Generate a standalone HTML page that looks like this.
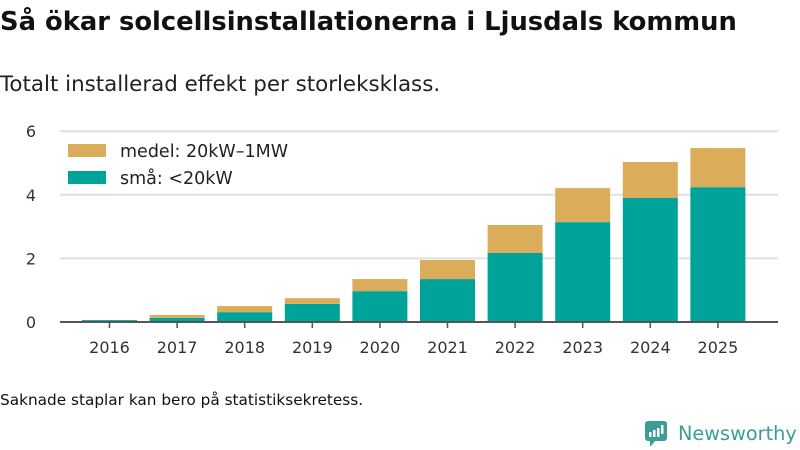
<!DOCTYPE html>
<html><head><meta charset="utf-8"><style>
body{margin:0;width:800px;height:450px;background:#fff;font-family:"Liberation Sans","DejaVu Sans",sans-serif;overflow:hidden;position:relative}
</style></head><body>
<svg width="800" height="450" style="position:absolute;left:0;top:0">
<text x="0" y="30" font-size="25.8" font-weight="bold" fill="#111" font-family="DejaVu Sans, sans-serif">Så ökar solcellsinstallationerna i Ljusdals kommun</text>
<text x="0" y="91" font-size="21.4" fill="#222" font-family="DejaVu Sans, sans-serif">Totalt installerad effekt per storleksklass.</text>
<g id="grid"></g>
<g id="bars"></g>
<rect x="60" y="133" width="237" height="60" fill="#fff"/>
<rect x="68" y="144" width="38" height="13" fill="#dbac5a"/>
<text x="120" y="157" font-size="17.5" fill="#222" font-family="DejaVu Sans, sans-serif">medel: 20kW–1MW</text>
<rect x="68" y="171" width="38" height="13" fill="#00a39a"/>
<text x="120" y="184" font-size="17.5" fill="#222" font-family="DejaVu Sans, sans-serif">små: &lt;20kW</text>
<g id="axis"></g>
<text x="0" y="405" font-size="15.3" fill="#111" font-family="DejaVu Sans, sans-serif">Saknade staplar kan bero på statistiksekretess.</text>
<g>
<rect x="645" y="421" width="22" height="20" rx="3" fill="#3a9e96"/>
<polygon points="650,440 656,440 650,447" fill="#3a9e96"/>
<rect x="649" y="432" width="2.5" height="5" fill="#fff"/><rect x="653" y="430" width="2.5" height="7" fill="#fff"/><rect x="657" y="428" width="2.5" height="9" fill="#fff"/><rect x="661" y="425" width="2.5" height="9" fill="#fff"/>
<text x="678" y="440" font-size="19.3" fill="#3a9e96" font-family="DejaVu Sans, sans-serif">Newsworthy</text>
</g>
</svg>
<script>
const years=["2016","2017","2018","2019","2020","2021","2022","2023","2024","2025"];
const small=[0.06,0.13,0.31,0.57,0.97,1.35,2.17,3.14,3.9,4.24];
const medium=[0,0.09,0.19,0.18,0.38,0.6,0.88,1.07,1.13,1.23];
const yTicks=[0,2,4,6];
const NS="http://www.w3.org/2000/svg";
const y0=322,pxPer=31.8,x0=82,step=67.6,bw=55;
const Y=v=>y0-v*pxPer, X=i=>x0+i*step;
function mk(t,a,p){const e=document.createElementNS(NS,t);for(const k in a)e.setAttribute(k,a[k]);p.appendChild(e);return e;}
const grid=document.getElementById('grid'),bars=document.getElementById('bars'),axis=document.getElementById('axis');
yTicks.forEach(v=>{
 if(v>0){const l=mk('line',{x1:60,x2:778,y1:Y(v),y2:Y(v),stroke:'#e0e0e0','stroke-width':2},grid);
 
 }
 const t=mk('text',{x:36,y:Y(v)+6,'font-size':16,fill:'#333','text-anchor':'end','font-family':'DejaVu Sans, sans-serif'},grid);
 t.textContent=v;
 
 
});
years.forEach((yr,i)=>{
 const r1=mk('rect',{x:X(i),y:Y(small[i]),width:bw,height:small[i]*pxPer,fill:'#00a39a'},bars);
 
 
 if(medium[i]>0){const r2=mk('rect',{x:X(i),y:Y(small[i]+medium[i]),width:bw,height:medium[i]*pxPer,fill:'#dbac5a'},bars);
 
 }
 const cx=X(i)+bw/2;
 mk('line',{x1:cx,x2:cx,y1:y0,y2:y0+6,stroke:'#555','stroke-width':1.5},axis);
 const t=mk('text',{x:cx,y:353,'font-size':16,fill:'#333','text-anchor':'middle','font-family':'DejaVu Sans, sans-serif'},axis);
 t.textContent=yr;
 
 
});
const ax=mk('line',{x1:60,x2:778,y1:y0,y2:y0,stroke:'#555','stroke-width':2},axis);


</script>
</body></html>
